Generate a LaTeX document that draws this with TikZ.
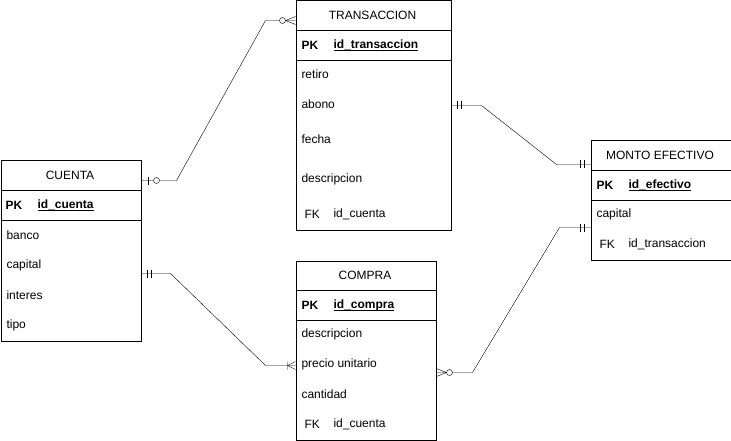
\documentclass[tikz,border=0pt]{standalone}
\usepackage{fontspec}
\setmainfont{Liberation Sans}
\usepackage{tikz}
\pgfdeclarelayer{bg}
\pgfsetlayers{bg,main}
\newcommand{\llave}[1]{\setbox0\hbox{\bfseries #1}\rlap{\rule[-1.8pt]{\wd0}{0.9pt}}\box0}
\tikzset{
  tabla/.style={draw, line width=1pt, inner sep=0pt, anchor=north west},
  campo/.style={anchor=west, inner sep=0pt},
  titulo/.style={inner sep=0pt},
  clave/.style={anchor=west, inner sep=0pt, font=\bfseries},
  uno/.pic={\draw (-6,-4) -- (-6,4) (-10,-4) -- (-10,4);},
  ceroUno/.pic={\draw (-7,-4) -- (-7,4); \draw[fill=white] (-15,0) circle (3pt);},
  unoMuchos/.pic={\draw (-8,-4) -- (-8,4) (-8,0) -- (0,-4) (-8,0) -- (0,4);},
  ceroMuchos/.pic={\draw (-10,0) -- (0,-4) (-10,0) -- (0,4); \draw[fill=white] (-13,0) circle (3pt);}
}
\begin{document}
\fontsize{12}{14}\selectfont
\begin{tikzpicture}[x=1pt, y=-1pt, line width=1pt]
        \useasboundingbox (0,0) rectangle (731,441);
        % CUENTA
        \node (cuenta) [tabla, minimum width=140pt, minimum height=180pt] at (0.5,160.5) {};
        \draw (cuenta.west |- 0,190.5) -- (cuenta.east |- 0,190.5);
        \draw (cuenta.west |- 0,220.5) -- (cuenta.east |- 0,220.5);
        \node (cuenta t) [titulo] at (70,175.5) {CUENTA};
        \node (cuenta pk) [clave] at (5,205.5) {PK};
        \node (cuenta id) [campo] at (37,205.5) {\llave{id\_cuenta}};
        \node (cuenta c1) [campo] at (6,235.5) {banco};
        \node (cuenta c2) [campo] at (6,265.5) {capital};
        \node (cuenta c3) [campo] at (6,295.5) {interes};
        \node (cuenta c4) [campo] at (6,325.5) {tipo};
        % TRANSACCION
        \node (trans) [tabla, minimum width=155pt, minimum height=229.5pt] at (295.5,0.5) {};
        \draw (trans.west |- 0,30.5) -- (trans.east |- 0,30.5);
        \draw (trans.west |- 0,60.5) -- (trans.east |- 0,60.5);
        \node (trans t) [titulo] at (372.5,15.5) {TRANSACCION};
        \node (trans pk) [clave] at (301,45.5) {PK};
        \node (trans id) [campo] at (333,45.5) {\llave{id\_transaccion}};
        \node (trans c1) [campo] at (301,74.5) {retiro};
        \node (trans c2) [campo] at (301,104.5) {abono};
        \node (trans c3) [campo] at (301,139.5) {fecha};
        \node (trans c4) [campo] at (301,179.5) {descripcion};
        \node (trans fk) [campo] at (304,214.5) {FK};
        \node (trans fkid) [campo] at (333,214.5) {id\_cuenta};
        % COMPRA
        \node (compra) [tabla, minimum width=140pt, minimum height=179.5pt] at (295.5,260.5) {};
        \draw (compra.west |- 0,290.5) -- (compra.east |- 0,290.5);
        \draw (compra.west |- 0,320.5) -- (compra.east |- 0,320.5);
        \node (compra t) [titulo] at (365,275.5) {COMPRA};
        \node (compra pk) [clave] at (301,305.5) {PK};
        \node (compra id) [campo] at (333,305.5) {\llave{id\_compra}};
        \node (compra c1) [campo] at (301,334.5) {descripcion};
        \node (compra c2) [campo] at (301,364.5) {precio unitario};
        \node (compra c3) [campo] at (301,394.5) {cantidad};
        \node (compra fk) [campo] at (304,424.5) {FK};
        \node (compra fkid) [campo] at (333,424.5) {id\_cuenta};
        % MONTO EFECTIVO
        \node (monto) [tabla, minimum width=140pt, minimum height=119.5pt] at (590.5,140.5) {};
        \draw (monto.west |- 0,170.5) -- (monto.east |- 0,170.5);
        \draw (monto.west |- 0,200.5) -- (monto.east |- 0,200.5);
        \node (monto t) [titulo] at (660,155.5) {MONTO EFECTIVO};
        \node (monto pk) [clave] at (596,185.5) {PK};
        \node (monto id) [campo] at (628,185.5) {\llave{id\_efectivo}};
        \node (monto c1) [campo] at (596,214.5) {capital};
        \node (monto fk) [campo] at (599,244.5) {FK};
        \node (monto fkid) [campo] at (628,244.5) {id\_transaccion};
        % relaciones
        \coordinate (cu a) at (cuenta.east |- 0,180.5);
        \coordinate (cu b) at (cuenta.east |- 0,273.5);
        \coordinate (tr a) at (trans.west |- 0,20.5);
        \coordinate (tr b) at (trans.east |- 0,105.5);
        \coordinate (co a) at (compra.west |- 0,365.5);
        \coordinate (co b) at (compra.east |- 0,372.5);
        \coordinate (mo a) at (monto.west |- 0,164.5);
        \coordinate (mo b) at (monto.west |- 0,227.5);
        \begin{pgfonlayer}{bg}
                \draw (cu a) -- ++(35pt,0) -- ([xshift=-30pt]tr a) -- (tr a);
                \draw (tr b) -- ++(30pt,0) -- ([xshift=-34pt]mo a) -- (mo a);
                \draw (cu b) -- ++(29pt,0) -- ([xshift=-30pt]co a) -- (co a);
                \draw (co b) -- ++(36pt,0) -- ([xshift=-31pt]mo b) -- (mo b);
        \end{pgfonlayer}
        \pic [xscale=-1] at (cu a) {ceroUno};
        \pic at (tr a) {ceroMuchos};
        \pic [xscale=-1] at (tr b) {uno};
        \pic at (mo a) {uno};
        \pic [xscale=-1] at (cu b) {uno};
        \pic at (co a) {unoMuchos};
        \pic [xscale=-1] at (co b) {ceroMuchos};
        \pic at (mo b) {uno};
\end{tikzpicture}
\end{document}
